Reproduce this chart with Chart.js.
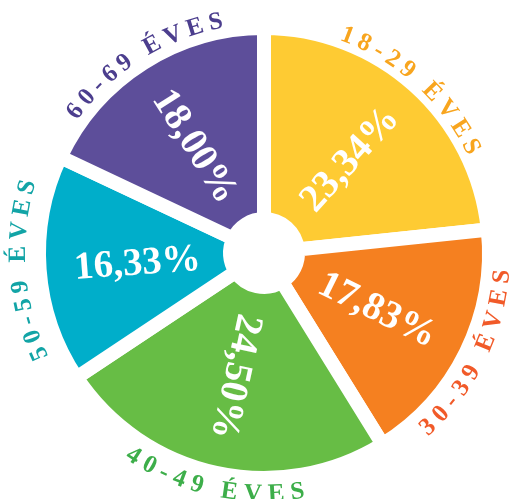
<!DOCTYPE html>
<html>
<head>
<meta charset="utf-8">
<script src="https://cdn.jsdelivr.net/npm/chart.js@4"></script>
<style>
  html, body { margin: 0; padding: 0; background: #fff; }
  #wrap { width: 510px; height: 499px; position: relative; }
</style>
</head>
<body>
<div id="wrap"><canvas id="pieChart"></canvas></div>
<script>
// ==========================================
// DATOS
// ==========================================
const grupos = ['18-29 ÉVES', '30-39 ÉVES', '40-49 ÉVES', '50-59 ÉVES', '60-69 ÉVES'];
const porcentajes = [23.34, 17.83, 24.50, 16.33, 18.00];

// ==========================================
// ESTILO
// ==========================================
const coloresSector = ['#FECB33', '#F58020', '#67BD45', '#00AECA', '#5D4E9A'];
const coloresEtiqueta = ['#F8A51E', '#F15A29', '#3DAE4A', '#12A4A6', '#4C3E8E'];
const radioEtiqueta = [226, 246, 248, 239, 229];   // radio de la línea base del texto curvo
const FUENTE = "'Liberation Serif', 'Times New Roman', serif";

// texto curvo alrededor del círculo
function textoCurvo(ctx, texto, cx, cy, r, centro, haciaFuera, color) {
    ctx.save();
    ctx.font = "bold 25px " + FUENTE;
    ctx.fillStyle = color;
    ctx.textAlign = 'center';
    ctx.textBaseline = 'alphabetic';
    const espacio = 6;
    const anchos = [...texto].map(c => ctx.measureText(c).width + espacio);
    const total = anchos.reduce((a, b) => a + b, 0) - espacio;
    const rMedio = haciaFuera ? r + 8 : r - 8;
    let acum = 0;
    [...texto].forEach((c, i) => {
        const w = anchos[i] - espacio;
        const s = (acum + w / 2 - total / 2) / rMedio;
        const a = haciaFuera ? centro + s : centro - s;
        ctx.save();
        ctx.translate(cx + Math.cos(a) * r, cy + Math.sin(a) * r);
        ctx.rotate(haciaFuera ? a + Math.PI / 2 : a - Math.PI / 2);
        ctx.fillText(c, 0, 0);
        ctx.restore();
        acum += anchos[i];
    });
    ctx.restore();
}

const etiquetasPlugin = {
    id: 'etiquetas',
    afterDatasetsDraw(chart) {
        const ctx = chart.ctx;
        const meta = chart.getDatasetMeta(0);
        meta.data.forEach((arc, i) => {
            const p = arc.getProps(['x', 'y', 'startAngle', 'endAngle', 'outerRadius'], true);
            const medio = (p.startAngle + p.endAngle) / 2;

            // porcentaje dentro del sector
            const rp = 127;
            let rot = medio;
            if (Math.cos(medio) < -0.3) rot += Math.PI;
            ctx.save();
            ctx.translate(p.x + Math.cos(medio) * rp, p.y + Math.sin(medio) * rp);
            ctx.rotate(rot);
            ctx.font = "bold 39px " + FUENTE;
            ctx.fillStyle = '#ffffff';
            ctx.textAlign = 'center';
            ctx.textBaseline = 'middle';
            ctx.fillText(porcentajes[i].toFixed(2).replace('.', ',') + '%', 0, 2);
            ctx.restore();

            // nombre del grupo fuera del círculo
            const haciaFuera = Math.sin(medio) < 0.3;
            textoCurvo(ctx, grupos[i], p.x, p.y, radioEtiqueta[i], medio, haciaFuera, coloresEtiqueta[i]);
        });
    }
};

new Chart(document.getElementById('pieChart'), {
    type: 'doughnut',
    data: {
        labels: grupos,
        datasets: [{
            data: porcentajes,
            backgroundColor: coloresSector,
            borderColor: '#ffffff',
            borderWidth: 14,
            borderJoinStyle: 'miter',
            hoverOffset: 0
        }]
    },
    options: {
        responsive: true,
        maintainAspectRatio: false,
        animation: false,
        cutout: 34,
        layout: { padding: { left: 32, top: 21, right: 14, bottom: 14 } },
        plugins: {
            legend: { display: false },
            tooltip: { enabled: false }
        }
    },
    plugins: [etiquetasPlugin]
});
</script>
</body>
</html>
